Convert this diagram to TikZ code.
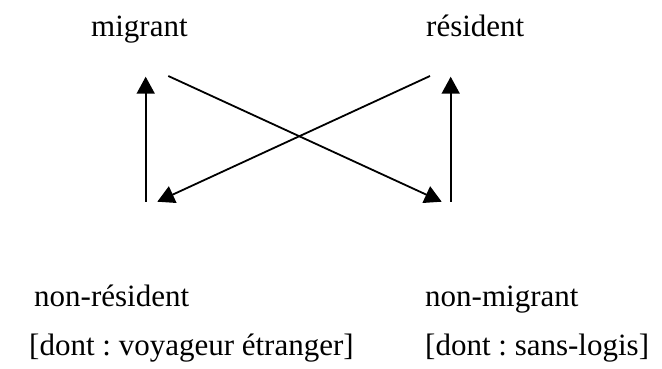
\documentclass[tikz,border=0pt]{standalone}
\usepackage{fontspec}
\setmainfont{Liberation Serif}
\usetikzlibrary{arrows.meta}
\frenchspacing
\begin{document}
\begin{tikzpicture}[x=1pt,y=-1pt,
  lab/.style={anchor=base west,inner sep=0pt,font=\fontsize{31}{37}\selectfont},
  conn/.style={line width=1.8pt,-{Triangle[length=17pt,width=18pt]}}]
\useasboundingbox (0,0) rectangle (662,368);
\node[lab] (mig) at (91,36) {migrant};
\node[lab] (res) at (426,36) {résident};
\node[lab] (nres) at (34,306) {non-résident};
\node[lab] (nmig) at (425,306) {non-migrant};
\node[lab] (nresd) at (29,355) {[dont : voyageur étranger]};
\node[lab] (nmigd) at (425,355) {[dont : sans-logis]};
\coordinate (lb) at (145.7,201.7);
\coordinate (lt) at (145.7,76.7);
\coordinate (rb) at (450.7,201.7);
\coordinate (rt) at (450.7,76.7);
\coordinate (d1s) at (168.3,76);
\coordinate (d1e) at (441.7,201.7);
\coordinate (d2s) at (430,76);
\coordinate (d2e) at (157.3,201.7);
\draw[conn] (lb) -- (lt);
\draw[conn] (rb) -- (rt);
\draw[conn] (d1s) -- (d1e);
\draw[conn] (d2s) -- (d2e);
\end{tikzpicture}
\end{document}
